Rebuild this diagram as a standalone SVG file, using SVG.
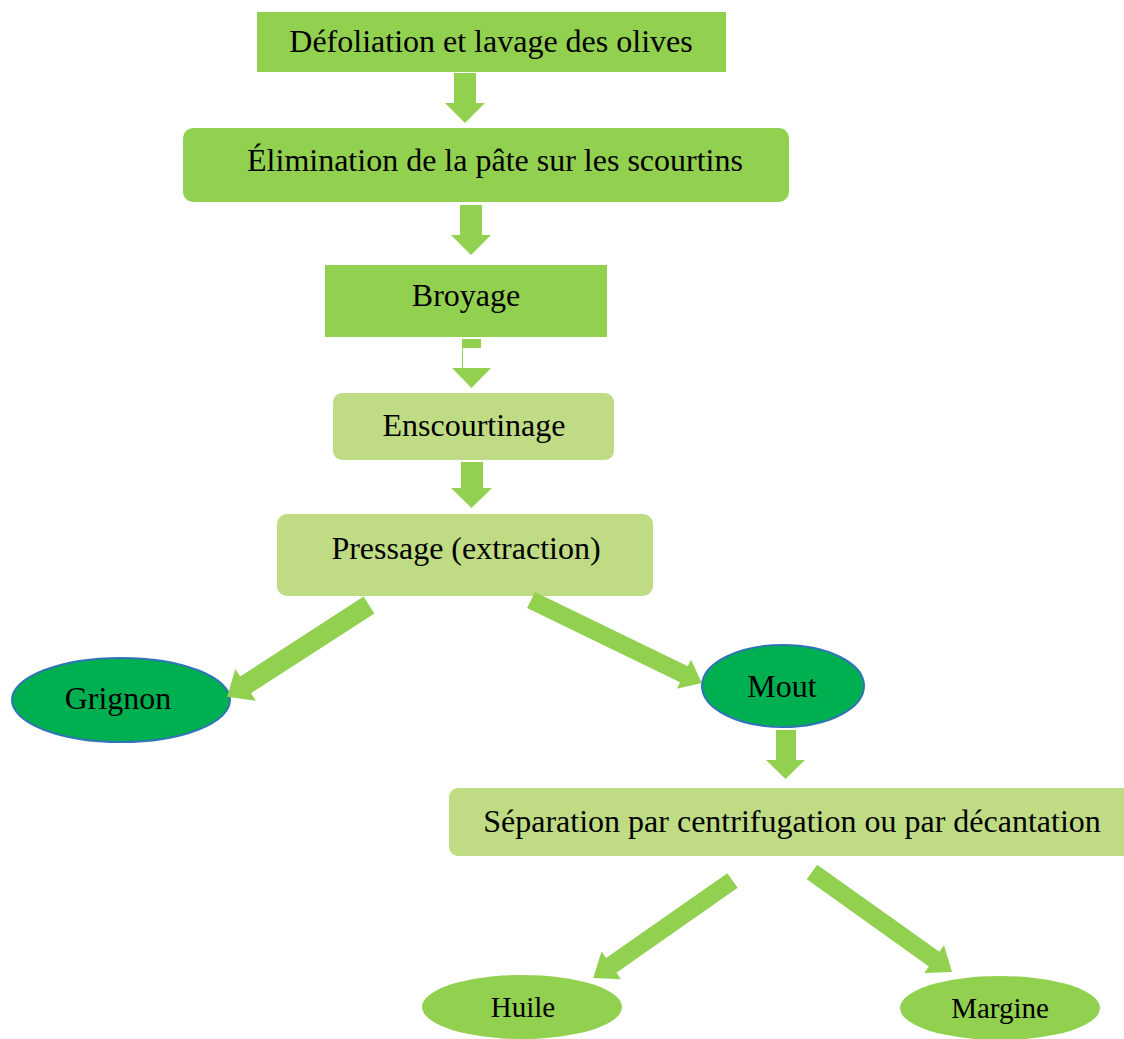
<svg xmlns="http://www.w3.org/2000/svg" width="1124" height="1039" viewBox="0 0 1124 1039">
  <style>
    .dark { fill: #92d050; }
    .light { fill: #bfdc85; }
    .prod { fill: #00b050; stroke: #2e75b6; stroke-width: 2; }
    .res { fill: #92d050; }
    .arrow { fill: #92d050; }
    text { font-family: "Liberation Serif", "Times New Roman", serif; font-size: 32px; fill: #000; text-anchor: middle; }
    .small { font-size: 29px; }
  </style>

  <!-- process steps -->
  <g id="defoliation">
    <rect class="dark" x="257" y="12" width="469" height="60"/>
    <text x="491" y="52">Défoliation et lavage des olives</text>
  </g>
  <g id="elimination">
    <rect class="dark" x="183" y="128" width="606" height="74" rx="10"/>
    <text x="495" y="171">Élimination de la pâte sur les scourtins</text>
  </g>
  <g id="broyage">
    <rect class="dark" x="325" y="265" width="282" height="72"/>
    <text x="466" y="306">Broyage</text>
  </g>
  <g id="enscourtinage">
    <rect class="light" x="333" y="393" width="281" height="67" rx="9"/>
    <text x="474" y="436">Enscourtinage</text>
  </g>
  <g id="pressage">
    <rect class="light" x="277" y="514" width="376" height="82" rx="10"/>
    <text x="466" y="559">Pressage (extraction)</text>
  </g>
  <g id="grignon">
    <ellipse class="prod" cx="121" cy="700" rx="109" ry="42"/>
    <text x="118" y="709">Grignon</text>
  </g>
  <g id="mout">
    <ellipse class="prod" cx="783" cy="686" rx="81" ry="41"/>
    <text x="782" y="697">Mout</text>
  </g>
  <g id="separation">
    <rect class="light" x="449" y="788" width="690" height="68" rx="9"/>
    <text x="792" y="832">Séparation par centrifugation ou par décantation</text>
  </g>
  <g id="huile">
    <ellipse class="res" cx="522" cy="1007" rx="100" ry="32"/>
    <text class="small" x="523" y="1017">Huile</text>
  </g>
  <g id="margine">
    <ellipse class="res" cx="1000" cy="1008" rx="100" ry="32"/>
    <text class="small" x="1000" y="1018">Margine</text>
  </g>

  <!-- block arrows between steps -->
  <g id="connectors">
    <path class="arrow" d="M454,73 H476 V103 H485 L465,123 L445,103 H454 Z"/>
    <path class="arrow" d="M460,205 H482 V235 H491 L471,255 L451,235 H460 Z"/>
    <rect class="arrow" x="462" y="339" width="19" height="9"/>
    <line x1="462.5" y1="348" x2="462.5" y2="368" stroke="#92d050" stroke-width="1"/>
    <path class="arrow" d="M452,368 H491 L471.5,388 Z"/>
    <path class="arrow" d="M461,462 H483 V488 H492 L471.5,508 L451,488 H461 Z"/>
    <path class="arrow" d="M776,730 H796 V760 H805 L785.5,779 L766,760 H776 Z"/>
    <path class="arrow" transform="translate(369,605) rotate(147.1)" d="M0,-10 H147 V-19 L169,0 L147,19 V10 H0 Z"/>
    <path class="arrow" transform="translate(531,600) rotate(25.9)" d="M0,-9 H170 V-16 L190,0 L170,16 V9 H0 Z"/>
    <path class="arrow" transform="translate(732.5,880.5) rotate(145)" d="M0,-9 H148 V-17 L170,0 L148,17 V9 H0 Z"/>
    <path class="arrow" transform="translate(812,872) rotate(35.5)" d="M0,-9 H150 V-17 L172,0 L150,17 V9 H0 Z"/>
  </g>
</svg>
